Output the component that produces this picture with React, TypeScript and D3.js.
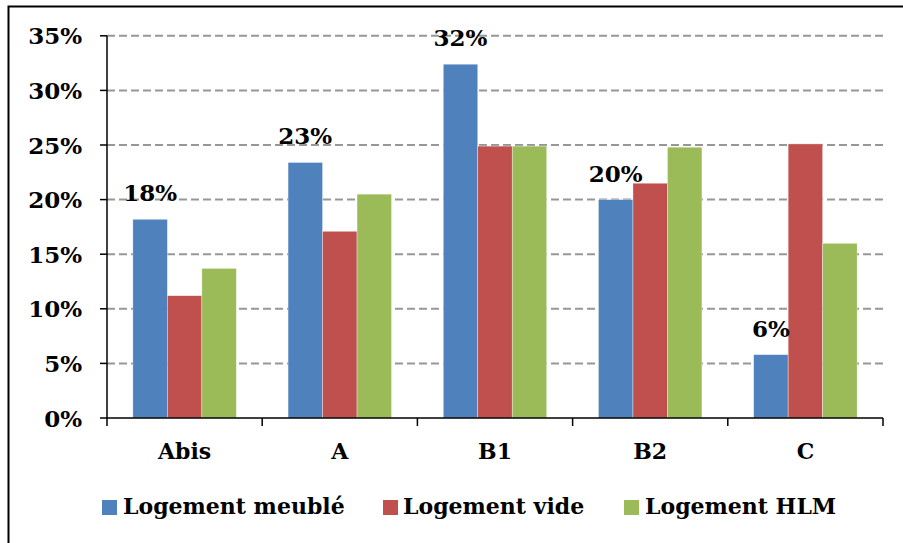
import React from "react";
import * as d3 from "d3";

const categories = ["Abis", "A", "B1", "B2", "C"];
const seriesNames = ["Logement meublé", "Logement vide", "Logement HLM"];
const meuble = [18.2, 23.4, 32.4, 20.0, 5.8];
const vide = [11.2, 17.1, 24.9, 21.5, 25.1];
const hlm = [13.7, 20.5, 24.9, 24.8, 16.0];
const labelsMeuble = ["18%", "23%", "32%", "20%", "6%"];
const yTicks = [0, 5, 10, 15, 20, 25, 30, 35];
const colors = ["#4F81BD", "#C0504D", "#9BBB59"];

const W = 903;
const H = 543;
const FONT = "'DejaVu Serif', serif";

export default function App() {
  const series = [meuble, vide, hlm];
  const x0 = d3.scaleBand<string>().domain(categories).range([107, 883]).padding(0);
  const x1 = d3
    .scaleBand<string>()
    .domain(seriesNames)
    .range([0, x0.bandwidth()])
    .paddingInner(0)
    .paddingOuter(0.75);
  const y = d3.scaleLinear().domain([0, 35]).range([418, 35.8]);
  const left = 107;
  const right = 883;
  const base = y(0);

  const legendItems = [
    { name: seriesNames[0], sx: 102, tx: 123 },
    { name: seriesNames[1], sx: 383, tx: 403 },
    { name: seriesNames[2], sx: 624, tx: 645 },
  ];

  return (
    <svg
      width={W}
      height={H}
      style={{ position: "absolute", left: 0, top: 0, background: "#fff" }}
      fontFamily={FONT}
      fontWeight="bold"
    >
      <rect x={0} y={0} width={W} height={H} fill="#fff" />
      {/* gridlines */}
      {yTicks.slice(1).map((t) => (
        <line
          key={"g" + t}
          x1={left}
          x2={right}
          y1={y(t)}
          y2={y(t)}
          stroke="#979797"
          strokeWidth={2}
          strokeDasharray="8,4"
        />
      ))}
      {/* bars */}
      {series.map((vals, si) =>
        vals.map((v, ci) => (
          <rect
            key={"b" + si + "-" + ci}
            x={(x0(categories[ci]) as number) + (x1(seriesNames[si]) as number)}
            y={y(v)}
            width={x1.bandwidth()}
            height={base - y(v)}
            fill={colors[si]}
            stroke="#ffffff"
            strokeOpacity={0.6}
            strokeWidth={0.6}
          />
        ))
      )}
      {/* y axis */}
      <line x1={left} x2={left} y1={y(35)} y2={base + 8} stroke="#000" strokeWidth={1.5} />
      {yTicks.map((t) => (
        <g key={"t" + t}>
          <line x1={left - 7} x2={left} y1={y(t)} y2={y(t)} stroke="#000" strokeWidth={1.5} />
          <text
            x={82}
            y={y(t)}
            textAnchor="end"
            dominantBaseline="central"
            fontSize={23}
            fill="#000"
          >
            {t + "%"}
          </text>
        </g>
      ))}
      {/* x axis */}
      <line x1={left} x2={right} y1={base} y2={base} stroke="#000" strokeWidth={1.5} />
      {categories.map((c) => (
        <g key={"c" + c}>
          <line
            x1={(x0(c) as number) + x0.bandwidth()}
            x2={(x0(c) as number) + x0.bandwidth()}
            y1={base}
            y2={base + 8}
            stroke="#000"
            strokeWidth={1.5}
          />
          <text
            x={(x0(c) as number) + x0.bandwidth() / 2}
            y={459}
            textAnchor="middle"
            fontSize={22}
            fill="#000"
          >
            {c}
          </text>
        </g>
      ))}
      {/* data labels */}
      {meuble.map((v, i) => (
        <text
          key={"l" + i}
          x={(x0(categories[i]) as number) + (x1(seriesNames[0]) as number) + x1.bandwidth() / 2}
          y={y(v) - 18}
          textAnchor="middle"
          fontSize={23}
          fill="#000"
        >
          {labelsMeuble[i]}
        </text>
      ))}
      {/* legend */}
      {legendItems.map((it, i) => (
        <g key={"lg" + i}>
          <rect x={it.sx} y={500} width={15} height={15} fill={colors[i]} />
          <text x={it.tx} y={514} fontSize={22} fill="#000">
            {it.name}
          </text>
        </g>
      ))}
      {/* border */}
      <rect x={8.5} y={6.5} width={W + 10} height={H + 10} fill="none" stroke="#000" strokeWidth={2} />
    </svg>
  );
}
